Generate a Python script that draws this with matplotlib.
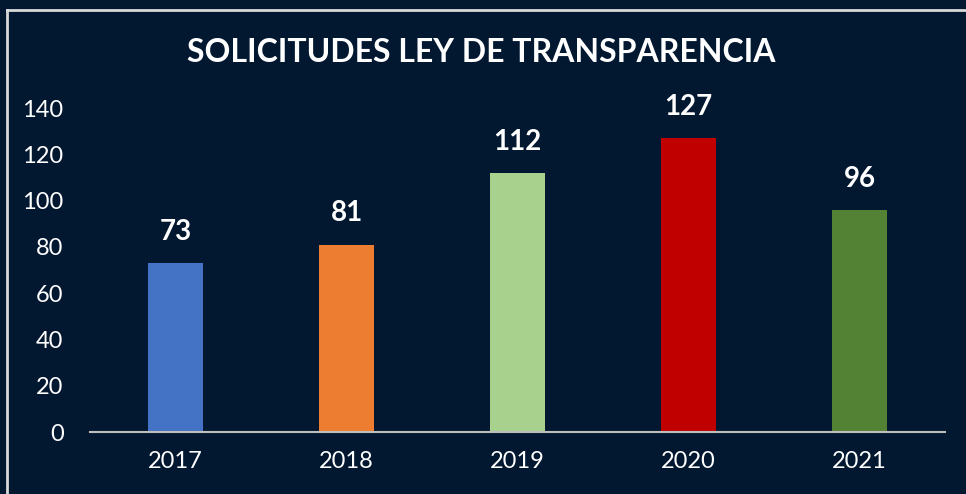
import numpy as np
import matplotlib
matplotlib.use('Agg')
import matplotlib.pyplot as plt
from matplotlib.lines import Line2D

years = ['2017', '2018', '2019', '2020', '2021']
solicitudes = [73, 81, 112, 127, 96]
colores = ['#4472C4', '#ED7D31', '#A9D18E', '#C00000', '#548235']
yticks = [0, 20, 40, 60, 80, 100, 120, 140]

bg = '#021730'
plt.rcParams['font.family'] = ['Lato', 'DejaVu Sans']

fig = plt.figure(figsize=(9.66, 4.94), dpi=100, facecolor=bg)
ax = fig.add_axes([90 / 966, 1 - 432 / 494, 855 / 966, 324 / 494])
ax.set_facecolor(bg)

x = np.arange(len(years))
ax.bar(x, solicitudes, width=0.316, color=colores, zorder=2)
for xi, v in zip(x, solicitudes):
    ax.annotate(str(v), (xi, v), xytext=(0, 13), textcoords='offset points',
                ha='center', va='bottom', color='white', fontsize=20,
                fontweight='bold')

ax.set_xlim(-0.5, len(years) - 0.5)
ax.set_ylim(0, 140)
ax.set_xticks(x)
ax.set_xticklabels(years)
ax.set_yticks(yticks)
ax.tick_params(axis='both', length=0, colors='white', labelsize=17)
ax.tick_params(axis='x', pad=14)
ax.tick_params(axis='y', pad=19)
for s in ['top', 'right', 'left']:
    ax.spines[s].set_visible(False)
ax.spines['bottom'].set_color('#bfbfbf')
ax.spines['bottom'].set_linewidth(1.5)

fig.text(481 / 966, 1 - 52 / 494, 'SOLICITUDES LEY DE TRANSPARENCIA',
         ha='center', va='center', color='white', fontsize=23,
         fontweight='bold')

# marco del grafico
fig.add_artist(Line2D([7 / 966, 1], [1 - 10 / 494] * 2, color='#d9d9d9', lw=2))
fig.add_artist(Line2D([7 / 966] * 2, [0, 1 - 10 / 494], color='#d9d9d9', lw=2))

fig.savefig('out.png', dpi=100, facecolor=bg)
